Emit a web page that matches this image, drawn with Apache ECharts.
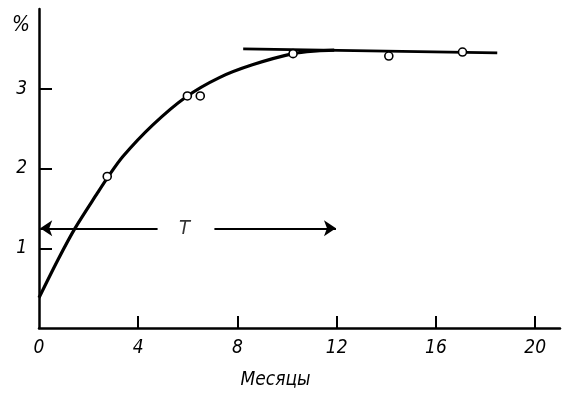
<!DOCTYPE html>
<html><head><meta charset="utf-8">
<script src="https://cdn.jsdelivr.net/npm/echarts@6/dist/echarts.min.js"></script>
<style>html,body{margin:0;padding:0;background:#fff}#c{width:574px;height:395px}</style>
</head><body><div id="c"></div>
<script>
// Curve
const curveX = [0, 0.77, 1.45, 2.37, 2.75, 3.38, 4.6, 5.94, 7.27, 8.6, 10.24, 11.2, 11.9];
const curveY = [0.38, 0.86, 1.25, 1.7, 1.88, 2.15, 2.55, 2.9, 3.14, 3.3, 3.44, 3.475, 3.485];
// Measured points (hollow circles)
const pointsX = [2.75, 5.98, 6.5, 10.24, 14.1, 17.07];
const pointsY = [1.9, 2.91, 2.91, 3.44, 3.41, 3.46];
// Plateau line
const plateauX = [8.23, 18.47];
const plateauY = [3.5, 3.45];
// T arrows
const arrowLeftX = [4.78, 0.05];
const arrowRightX = [7.07, 11.97];
const arrowY = 1.25;
const tLabelX = 5.86;
// Ticks
const xTickLabels = [0, 4, 8, 12, 16, 20];
const xTicks = [4, 8, 12, 16, 20];
const yTickLabels = [1, 2, 3];

const font = '"DejaVu Sans Condensed", "DejaVu Sans", sans-serif';
const chart = echarts.init(document.getElementById('c'), null, {renderer: 'canvas'});
chart.setOption({
  animation: false,
  backgroundColor: '#fff',
  grid: {left: 39, right: 14, top: 9, bottom: 66},
  xAxis: {
    type: 'value', min: 0, max: 21, interval: 4,
    name: 'Месяцы', nameLocation: 'middle', nameGap: 43,
    nameTextStyle: {fontFamily: font, fontStyle: 'italic', fontSize: 19, color: '#000', padding: [0, 48, 0, 0]},
    axisLine: {show: true, lineStyle: {color: '#000', width: 2.5}},
    axisTick: {show: true, inside: true, length: 12, customValues: xTicks, lineStyle: {color: '#000', width: 2}},
    axisLabel: {customValues: xTickLabels, margin: 11, fontFamily: font, fontStyle: 'italic', fontSize: 19, color: '#000'},
    splitLine: {show: false}
  },
  yAxis: {
    type: 'value', min: 0, max: 4, interval: 1,
    axisLine: {show: true, lineStyle: {color: '#000', width: 2.5}},
    axisTick: {show: true, inside: true, length: 13, customValues: yTickLabels, lineStyle: {color: '#000', width: 2}},
    axisLabel: {customValues: yTickLabels, margin: 12, fontFamily: font, fontStyle: 'italic', fontSize: 19, color: '#000'},
    splitLine: {show: false}
  },
  graphic: [{type: 'text', left: 12, top: 15, style: {text: '%', font: 'italic 21px ' + font, fill: '#000'}}],
  series: [
    {type: 'line', smooth: 0.3, symbol: 'none', data: curveX.map((x, i) => [x, curveY[i]]),
     lineStyle: {color: '#000', width: 3.2}, z: 3},
    {type: 'line', symbol: 'none', data: plateauX.map((x, i) => [x, plateauY[i]]),
     lineStyle: {color: '#000', width: 2.6}, z: 3},
    {type: 'scatter', symbol: 'circle', symbolSize: 8, data: pointsX.map((x, i) => [x, pointsY[i]]),
     itemStyle: {color: '#fff', borderColor: '#000', borderWidth: 1.6, opacity: 1}, z: 5},
    {type: 'lines', coordinateSystem: 'cartesian2d', symbol: ['none', 'arrow'], symbolSize: 12,
     lineStyle: {color: '#000', width: 1.8, opacity: 1},
     data: [{coords: [[arrowLeftX[0], arrowY], [arrowLeftX[1], arrowY]]},
            {coords: [[arrowRightX[0], arrowY], [arrowRightX[1], arrowY]]}], z: 4},
    {type: 'scatter', symbolSize: 0, data: [[tLabelX, arrowY]],
     label: {show: true, position: 'inside', formatter: 'T', fontFamily: font, fontStyle: 'italic', fontSize: 20, color: '#000'}}
  ]
});
</script></body></html>
